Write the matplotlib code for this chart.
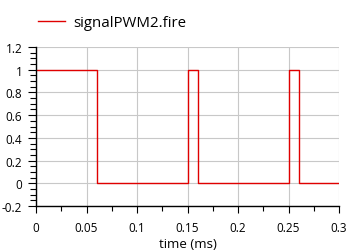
import matplotlib
matplotlib.use("Agg")
import matplotlib.pyplot as plt
from matplotlib.ticker import MultipleLocator

plt.rcParams['font.family'] = ['Open Sans', 'DejaVu Sans']

time_ms = [0, 0.06, 0.15, 0.16, 0.25, 0.26, 0.3]
fire = [1, 0, 1, 0, 1, 0, 0]
series_label = "signalPWM2.fire"

fig = plt.figure(figsize=(3.54, 2.51), dpi=100)
ax = fig.add_axes([36/354, 1 - 207/251, (339-36)/354, (207-48)/251])
ax.plot(time_ms, fire, drawstyle='steps-post', color='#e00000', lw=1.0, label=series_label)
ax.set_xlim(0, 0.3)
ax.set_ylim(-0.2, 1.2)
ax.xaxis.set_major_locator(MultipleLocator(0.05))
ax.xaxis.set_minor_locator(MultipleLocator(0.025))
ax.yaxis.set_major_locator(MultipleLocator(0.2))
ax.yaxis.set_minor_locator(MultipleLocator(0.05))
ax.set_xticklabels([f"{v:g}" for v in ax.get_xticks()])
ax.set_yticklabels([f"{v:g}" for v in ax.get_yticks()])
ax.grid(True, which='major', color='#c8c8c8', lw=0.8)
ax.set_axisbelow(True)
for s in ['top', 'right']:
    ax.spines[s].set_visible(False)
for s in ['left', 'bottom']:
    ax.spines[s].set_linewidth(1.0)
ax.tick_params(axis='x', which='major', length=5.0, width=0.8, labelsize=8.5, pad=6)
ax.tick_params(axis='x', which='minor', length=3.6, width=0.8)
ax.tick_params(axis='y', which='major', length=5.8, width=0.8, labelsize=8.5, pad=4)
ax.tick_params(axis='y', which='minor', length=4.3, width=0.8)
ax.set_xlabel("time (ms)", fontsize=9.5, labelpad=2)
ax.legend(loc='lower left', bbox_to_anchor=(0.005, 1.105), frameon=False, fontsize=10.8,
          handlelength=1.8, handletextpad=0.6, borderaxespad=0, borderpad=0)
fig.savefig("out.png", dpi=100)
